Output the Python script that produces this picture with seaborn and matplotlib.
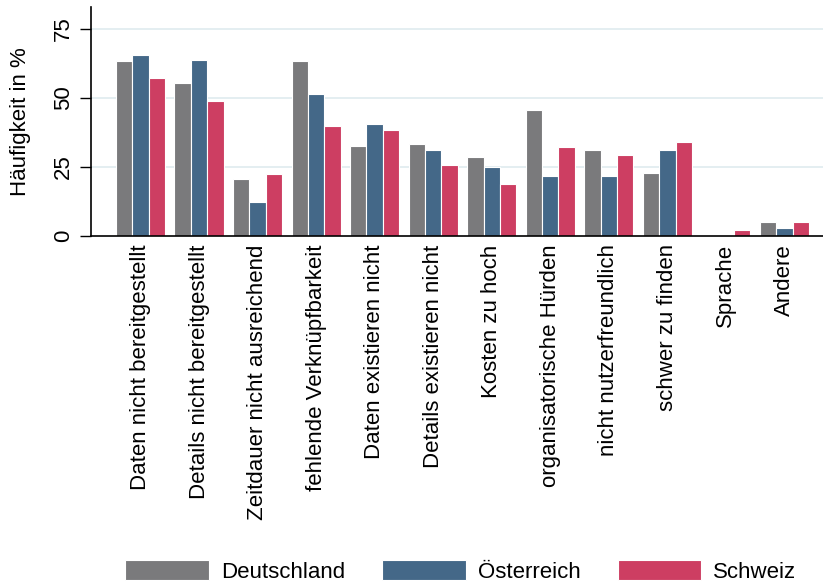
import matplotlib

matplotlib.use("Agg")
import matplotlib.pyplot as plt
import pandas as pd
import seaborn as sns

# --- data ---
categories = [
    "Daten nicht bereitgestellt",
    "Details nicht bereitgestellt",
    "Zeitdauer nicht ausreichend",
    "fehlende Verknüpfbarkeit",
    "Daten existieren nicht",
    "Details existieren nicht",
    "Kosten zu hoch",
    "organisatorische Hürden",
    "nicht nutzerfreundlich",
    "schwer zu finden",
    "Sprache",
    "Andere",
]
countries = ["Deutschland", "Österreich", "Schweiz"]
deutschland = [63.4, 55.4, 20.7, 63.4, 32.6, 33.3, 28.6, 45.7, 31.2, 22.8, 0.5, 5.1]
oesterreich = [65.6, 63.8, 12.3, 51.4, 40.6, 31.2, 25.0, 21.7, 21.7, 31.2, 0.0, 2.9]
schweiz = [57.2, 48.9, 22.5, 39.9, 38.4, 25.7, 18.8, 32.2, 29.3, 34.1, 2.2, 5.1]

COLORS = ["#7a7a7c", "#446888", "#cd3e62"]

df = pd.DataFrame(
    {
        "kategorie": categories * 3,
        "land": [c for c in countries for _ in categories],
        "wert": deutschland + oesterreich + schweiz,
    }
)

sns.set_theme(style="white")
plt.rcParams["font.family"] = ["Liberation Sans", "DejaVu Sans"]
plt.rcParams["font.size"] = 16
plt.rcParams["text.color"] = "black"

fig = plt.figure(figsize=(8.23, 5.84), dpi=100)
ax = fig.add_axes([0.1106, 0.596, 0.8894, 0.392])

sns.barplot(
    data=df,
    x="kategorie",
    y="wert",
    hue="land",
    order=categories,
    hue_order=countries,
    palette=COLORS,
    width=0.84,
    edgecolor="white",
    linewidth=0.8,
    saturation=1,
    ax=ax,
)

ax.set_ylim(0, 83)
ax.set_xlim(-0.846, 11.66)
ax.set_yticks([0, 25, 50, 75])
ax.set_yticklabels(["0", "25", "50", "75"], rotation=90, va="center", fontsize=16)
for y in [25, 50, 75]:
    ax.axhline(y, color="#e4eef1", lw=1.4, zorder=0)
ax.set_axisbelow(True)

ax.set_xticks(range(len(categories)))
ax.set_xticklabels(categories, rotation=90, ha="center", va="top", fontsize=16)
ax.tick_params(axis="x", length=0, pad=6, labelcolor="black")
ax.tick_params(axis="y", length=8, width=1, color="black", pad=4, left=True, labelcolor="black")

ax.set_xlabel("")
ax.set_ylabel("Häufigkeit in %", fontsize=16, labelpad=16, color="black")

for side in ["top", "right"]:
    ax.spines[side].set_visible(False)
for side in ["left", "bottom"]:
    ax.spines[side].set_color("black")
    ax.spines[side].set_linewidth(1.2)

handles, labels = ax.get_legend_handles_labels()
ax.legend_.remove()
fig.legend(
    handles,
    labels,
    loc="lower center",
    bbox_to_anchor=(0.56, -0.032),
    ncol=3,
    frameon=False,
    fontsize=16,
    handlelength=3.75,
    handleheight=1.0,
    handletextpad=0.55,
    columnspacing=1.67,
)

fig.savefig("out.png", dpi=100, facecolor="white")
